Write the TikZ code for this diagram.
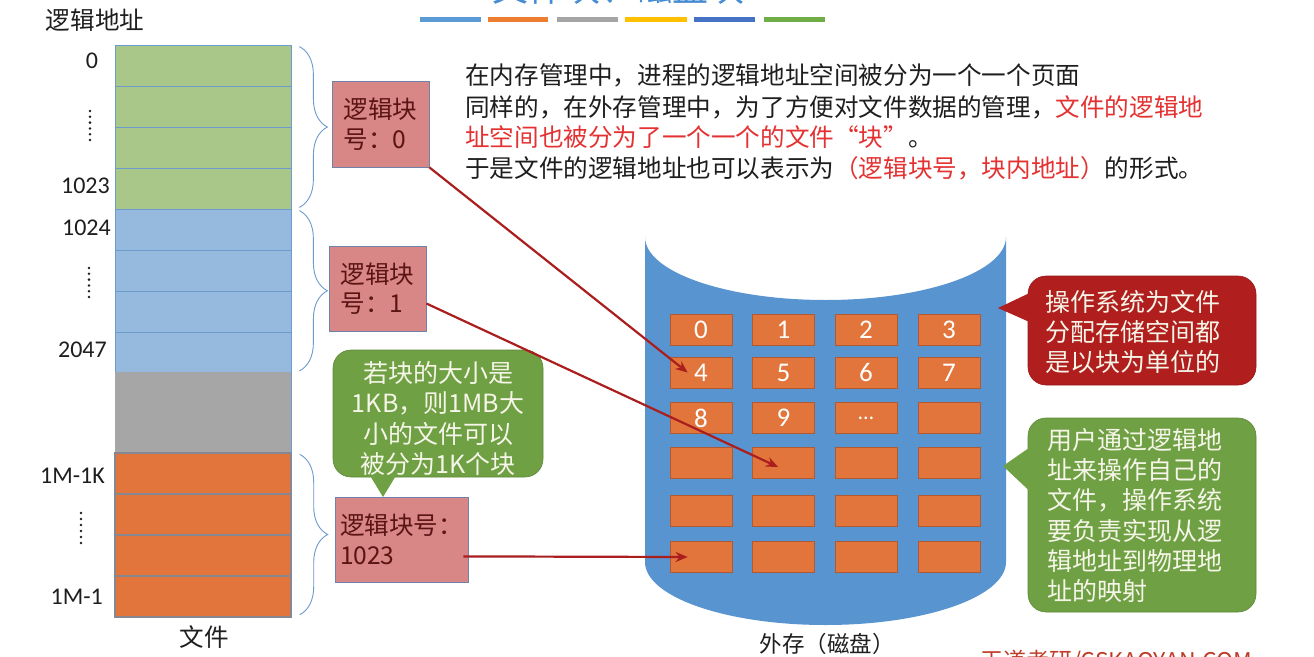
\documentclass[tikz,border=0pt]{standalone}
\usepackage{fontspec}
\setmainfont{Carlito}
\newfontfamily\cjk{Noto Sans CJK SC}
\usetikzlibrary{arrows.meta,decorations.pathreplacing,calc}
\newcommand\myfs[2]{\fontsize{#1}{#2}\selectfont}
\definecolor{gfill}{RGB}{169,199,137}
\definecolor{bfill}{RGB}{150,186,222}
\definecolor{grfill}{RGB}{166,166,166}
\definecolor{ofill}{RGB}{226,117,59}
\definecolor{rowline}{RGB}{110,155,205}
\definecolor{orowline}{RGB}{135,135,145}
\definecolor{boxfill}{RGB}{217,134,134}
\definecolor{boxline}{RGB}{110,130,170}
\definecolor{boxtext}{RGB}{90,20,20}
\definecolor{arrred}{RGB}{170,30,30}
\definecolor{diskblue}{RGB}{88,148,208}
\definecolor{blkline}{RGB}{175,90,50}
\definecolor{callred}{RGB}{176,30,30}
\definecolor{callgreen}{RGB}{111,160,68}
\definecolor{calltxt}{RGB}{245,245,232}
\definecolor{tred}{RGB}{228,50,50}
\definecolor{tblack}{RGB}{30,30,30}
\definecolor{titleblue}{RGB}{70,140,210}
\definecolor{wmark}{RGB}{190,60,40}
\definecolor{barA}{RGB}{91,155,213}
\definecolor{barB}{RGB}{237,125,49}
\definecolor{barC}{RGB}{165,165,165}
\definecolor{barD}{RGB}{255,192,0}
\definecolor{barE}{RGB}{68,114,196}
\definecolor{barF}{RGB}{112,173,71}
\begin{document}
\begin{tikzpicture}[x=1pt,y=-1pt,
  rowbox/.style={draw=rowline, line width=0.8pt, minimum width=176, minimum height=41, inner sep=0},
  orow/.style={rowbox, draw=orowline, line width=1.4pt, fill=ofill},
  lbl/.style={font=\myfs{24}{24}, text=tblack, inner sep=0},
  cjklbl/.style={font=\cjk\myfs{24.6}{30}, text=tblack, inner sep=0},
  rbox/.style={draw=boxline, line width=0.8pt, fill=boxfill, inner sep=0, align=left, font=\cjk\myfs{24.6}{29.5}, text=boxtext},
  blk/.style={draw=blkline, line width=0.8pt, fill=ofill, minimum width=62, minimum height=31, inner sep=0, font=\myfs{27}{27}, text=white},
  rarr/.style={draw=arrred, line width=2.2pt, -{Stealth[length=12pt,width=10pt]}},
  brc/.style={draw=rowline, line width=0.9pt, decorate, decoration={brace, amplitude=28pt}},
  callshape/.style={rounded corners=18pt, inner sep=0},
  calltext/.style={font=\cjk\myfs{25}{30.2}, text=calltxt, inner sep=0, align=left},
  bar/.style={line width=5pt}
]
\useasboundingbox (0,0) rectangle (1314,656);
\fill[white] (0,0) rectangle (1314,656);

% title (cut off at the top in the reference) and colour bars
\node[font=\cjk\myfs{36}{36}, text=titleblue, inner sep=0] (title) at (618,-12) {文件块、磁盘块};
\draw[bar,barA] (420,19.5) -- (481,19.5);
\draw[bar,barB] (488,19.5) -- (548,19.5);
\draw[bar,barC] (557,19.5) -- (618,19.5);
\draw[bar,barD] (625,19.5) -- (687,19.5);
\draw[bar,barE] (694,19.5) -- (755,19.5);
\draw[bar,barF] (764,19.5) -- (825,19.5);

% left column
\node[cjklbl] (hdr) at (95,20) {逻辑地址};
\node[rowbox, fill=gfill] (r1) at (203,65.5) {};
\node[rowbox, fill=gfill] (r2) at (203,106.5) {};
\node[rowbox, fill=gfill] (r3) at (203,147.5) {};
\node[rowbox, fill=gfill] (r4) at (203,188.5) {};
\node[rowbox, fill=bfill] (r5) at (203,229.5) {};
\node[rowbox, fill=bfill] (r6) at (203,270.5) {};
\node[rowbox, fill=bfill] (r7) at (203,311.5) {};
\node[rowbox, fill=bfill, minimum height=40.5] (r8) at (203,352.25) {};
\node[rowbox, draw=none, fill=grfill, minimum height=81] (r9) at (203,412.5) {};
\node[orow] (r10) at (203,473.5) {};
\node[orow] (r11) at (203,514.5) {};
\node[orow] (r12) at (203,555.5) {};
\node[orow] (r13) at (203,596.5) {};
\draw[rowline, line width=0.8pt] (r9.north east) -- (r9.south east);
\node[cjklbl] (fname) at (204,637) {文件};

\node[lbl] (a0) at (92,61) {0};
\node[lbl, anchor=east] (a1023) at (110,186) {1023};
\node[lbl, anchor=east] (a1024) at (111,228) {1024};
\node[lbl, anchor=east] (a2047) at (107,350) {2047};
\node[lbl, anchor=east] (a1m1k) at (105,476) {1M-1K};
\node[lbl, anchor=east] (a1m1) at (103,597) {1M-1};
\foreach \i in {0,...,5} {
  \fill[tblack] (90,111+5.8*\i) circle (1.4);
  \fill[tblack] (89,268+5.8*\i) circle (1.4);
  \fill[tblack] (81,513+6*\i) circle (1.4);
}

% braces
\draw[brc] ($(r1.north east)+(8,2)$) -- ($(r4.south east)+(8,-2)$);
\draw[brc] ($(r5.north east)+(8,2)$) -- ($(r8.south east)+(8,-2)$);
\draw[brc] ($(r10.north east)+(8,2)$) -- ($(r13.south east)+(8,-3)$);

% logical block boxes
\node[rbox, minimum width=97, minimum height=86] (b0) at (380.5,124) {逻辑块\\号：0};
\node[rbox, minimum width=97, minimum height=85] (b1) at (377.5,288.5) {逻辑块\\号：1};
\node[rbox, minimum width=133, minimum height=85] (b2) at (401.5,539.5) {逻辑块号：\\1023};

% green callout (block size)
\node[callshape, fill=callgreen, draw=callgreen!85!black, line width=0.6pt, minimum width=210, minimum height=127] (g1) at (438,413.5) {};
\coordinate (g1tip) at (383,497);
\fill[callgreen] (g1tip) -- ($(g1.south)+(-70,-5)$) -- ($(g1.south)+(-40,-5)$) -- cycle;
\node[calltext, align=center] (g1t) at (438,418.5) {若块的大小是\\1KB，则1MB大\\小的文件可以\\被分为1K个块};

% paragraph
\node[cjklbl, anchor=west] (p1) at (465,75) {在内存管理中，进程的逻辑地址空间被分为一个一个页面};
\node[cjklbl, anchor=west] (p2) at (465,107) {同样的，在外存管理中，为了方便对文件数据的管理，{\color{tred}文件的逻辑地}};
\node[cjklbl, anchor=west] (p3) at (465,137) {{\color{tred}址空间也被分为了一个一个的文件“块”}。};
\node[cjklbl, anchor=west] (p4) at (465,168) {于是文件的逻辑地址也可以表示为{\color{tred}（逻辑块号，块内地址）}的形式。};

% disk
\fill[diskblue] (645,237) -- (645,562)
  arc[start angle=180, end angle=0, x radius=180.5, y radius=63]
  -- (1006,237)
  arc[start angle=0, end angle=180, x radius=180.5, y radius=63] -- cycle;
\node[font=\cjk\myfs{22.5}{22.5}, text=tblack, inner sep=0] (disklbl) at (827,644) {外存（磁盘）};

\foreach \c/\x/\t in {0/701/0,1/783.5/1,2/866/2,3/949/3}
  \node[blk] (k0\c) at (\x,330) {\t};
\foreach \c/\x/\t in {0/701/4,1/783.5/5,2/866/6,3/949/7}
  \node[blk] (k1\c) at (\x,372.5) {\t};
\foreach \c/\x/\t in {0/701/8,1/783.5/9,2/866/{\myfs{22}{22}\raisebox{-3pt}{…}},3/949/{}}
  \node[blk] (k2\c) at (\x,418) {\t};
\foreach \r/\y in {3/463,4/511,5/557}
  \foreach \c/\x in {0/701,1/783.5,2/866,3/949}
    \node[blk] (k\r\c) at (\x,\y) {};

% arrows
\draw[rarr] (b0.south east) -- ($(k10.west)+(18,0)$);
\draw[rarr] ($(b1.east)+(0,15)$) -- ($(k31.west)+(26,4)$);
\draw[rarr] ($(b2.south east)+(-5,-26)$) -- ($(k50.west)+(18,0)$);

% red callout
\node[callshape, fill=callred, draw=callred!85!black, line width=0.6pt, minimum width=228, minimum height=109] (c1) at (1142,330.5) {};
\coordinate (c1tip) at (998,308);
\fill[callred] (c1tip) -- ($(c1.west)+(4,-38.5)$) -- ($(c1.west)+(4,-7.5)$) -- cycle;
\node[calltext, anchor=west] (c1t) at (1045,332) {操作系统为文件\\分配存储空间都\\是以块为单位的};

% green callout (mapping)
\node[callshape, fill=callgreen, draw=callgreen!85!black, line width=0.6pt, minimum width=228, minimum height=194] (c2) at (1142,515) {};
\coordinate (c2tip) at (1003,466);
\fill[callgreen] (c2tip) -- ($(c2.west)+(4,-69)$) -- ($(c2.west)+(4,-22)$) -- cycle;
\node[calltext, anchor=west] (c2t) at (1047,515.5) {用户通过逻辑地\\址来操作自己的\\文件，操作系统\\要负责实现从逻\\辑地址到物理地\\址的映射};

% watermark (cut off at the bottom in the reference)
\node[font=\cjk\myfs{23}{23}, text=wmark, inner sep=0, anchor=west] (wm) at (980,662) {王道考研/CSKAOYAN.COM};
\end{tikzpicture}
\end{document}
